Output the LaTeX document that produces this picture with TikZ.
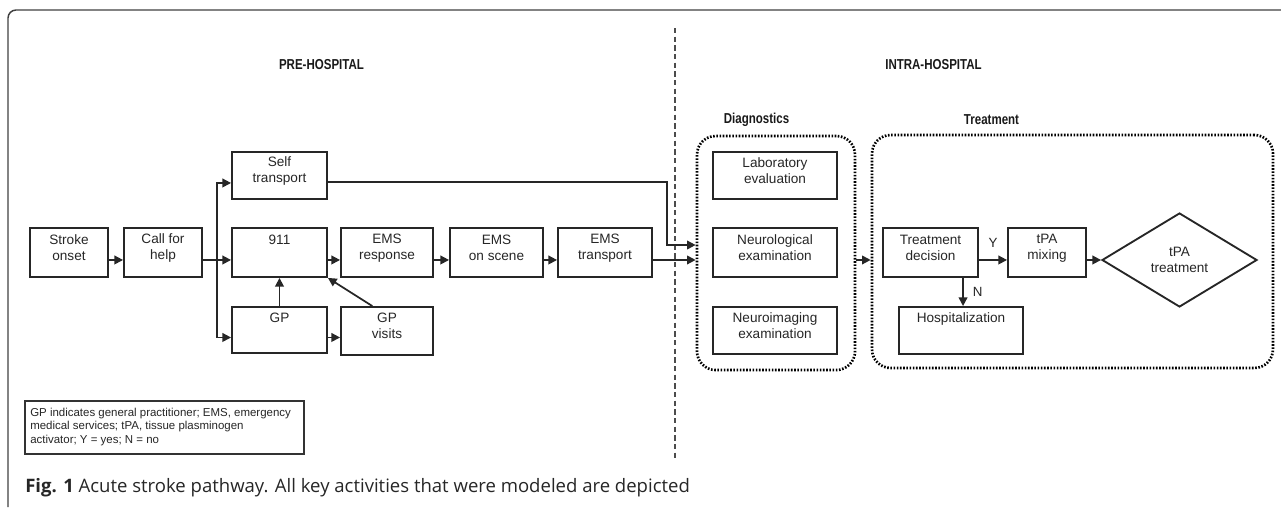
\documentclass[tikz,border=0pt]{standalone}
\usepackage{fontspec}
\usepackage{graphicx}
\setmainfont{Liberation Sans}
\newfontfamily\capfont{Open Sans}
\usetikzlibrary{arrows.meta,shapes.geometric,calc,fit}
\newcommand{\hdtxt}[1]{\scalebox{0.8}[1]{\bfseries #1}}
\begin{document}
\begin{tikzpicture}[x=0.75pt,y=-0.75pt,
  blk/.style={draw=black!85, line width=1.4pt, align=center, inner sep=0pt,
    text=black!85, font=\fontsize{10.2}{12}\selectfont},
  dotbox/.style={draw=black, line width=2pt, dash pattern=on 1.2pt off 1.2pt,
    rounded corners=14pt, inner sep=0pt},
  ln/.style={draw=black!85, line width=1.3pt},
  arr/.style={ln, -{Triangle[length=6.5pt,width=6.5pt]}},
  hd/.style={font=\fontsize{10.8}{12}\selectfont, text=black!90, inner sep=0pt},
  lab/.style={font=\fontsize{10}{12}\selectfont, text=black!85, inner sep=0pt},
  frame/.style={draw=black!75, line width=1.1pt, rounded corners=6pt},
  lo/.style={yshift=-5.6pt}
]
\useasboundingbox (0,0) rectangle (1281,507);
% outer frame
\draw[frame] (8,507) -- (8,10) -- (1282,10);
% divider
\draw[draw=black!70, line width=1.2pt, dash pattern=on 4pt off 2.5pt] (675,28) -- (675,458);
% headings
\node[hd] (pre) at (321.5,65) {\hdtxt{PRE-HOSPITAL}};
\node[hd] (intra) at (933.5,65) {\hdtxt{INTRA-HOSPITAL}};
\node[hd] (diaghd) at (756.5,120) {\hdtxt{Diagnostics}};
\node[hd] (treathd) at (991.5,120) {\hdtxt{Treatment}};
% dotted groups
\node[dotbox, fit={(697,136)(855,370)}] (diag) {};
\node[dotbox, fit={(872,135)(1273,368)}] (treat) {};
% pre-hospital boxes
\node[blk, fit={(30,228)(108,277)}] (onset) {Stroke\\onset};
\node[blk, fit={(124,228)(202,277)}] (help) {Call for\\help};
\node[blk, fit={(232,152)(327,199)}] (self) {Self\\transport};
\node[blk, fit={(232,228)(327,277)}] (n911) {911\\\mbox{}};
\node[blk, fit={(341,228)(433,277)}] (resp) {EMS\\response};
\node[blk, fit={(450,228)(543,277)}] (scene) {EMS\\on scene};
\node[blk, fit={(558,228)(652,277)}] (trans) {EMS\\transport};
\node[blk, fit={(232,307)(327,353)}] (gp) {GP\\\mbox{}};
\node[blk, fit={(341,307)(433,355)}] (gpv) {GP\\visits};
% diagnostics boxes
\node[blk, fit={(713,152)(837,199)}] (lab) {Laboratory\\evaluation};
\node[blk, fit={(713,228)(837,277)}] (neuro) {Neurological\\examination};
\node[blk, fit={(713,307)(837,354)}] (img) {Neuroimaging\\examination};
% treatment boxes
\node[blk, fit={(883,228)(978,277)}] (tdec) {Treatment\\decision};
\node[blk, fit={(1008,228)(1086,277)}] (mix) {tPA\\mixing};
\node[blk, fit={(899,307)(1023,354)}] (hosp) {Hospitalization\\\mbox{}};
\node[blk, shape=diamond, minimum width=116.25pt, minimum height=70.5pt] (tpa) at (1179.5,260) {tPA\\treatment};
% legend
\node[draw=black!80, line width=1pt, fit={(25,401)(304,454)}, inner sep=0pt] (legbox) {};
\node[anchor=west, align=left, inner sep=0pt, text=black!85, font=\fontsize{8.6}{10.1}\selectfont] (leg) at (30,427)
  {GP indicates general practitioner; EMS, emergency\\medical services; tPA, tissue plasminogen\\activator; Y = yes; N = no};
% caption
\node[anchor=west, inner sep=0pt, text=black!85, font=\capfont\fontsize{13.9}{15}\selectfont] (cap) at (25,488)
  {\textbf{Fig. 1} Acute stroke pathway. All key activities that were modeled are depicted};
% connectors
\coordinate (br) at (217,260);
\coordinate (sk) at (667,245);
\draw[arr] ([lo]onset.east) -- ([lo]help.west);
\draw[ln] ([lo]help.east) -- (br);
\draw[arr] (br) |- ([lo]self.west);
\draw[arr] (br) -- ([lo]n911.west);
\draw[arr] (br) |- ([lo]gp.west);
\draw[arr] ([lo]n911.east) -- ([lo]resp.west);
\draw[arr] ([lo]resp.east) -- ([lo]scene.west);
\draw[arr] ([lo]scene.east) -- ([lo]trans.east -| trans.west);
\draw[arr] (gp.north) -- (n911.south);
\draw[arr] ([lo]gp.east) -- ([lo]gpv.west |- gp.east);
\draw[arr] ([xshift=-11pt]gpv.north) -- (n911.south east);
\draw[arr] ([yshift=-5pt]self.east) -| (sk) -- (sk -| diag.west);
\draw[arr] ([lo]trans.east) -- ([lo]trans.east -| diag.west);
\draw[arr] ([lo]tdec.west -| diag.east) -- ([lo]tdec.west -| treat.west);
\draw[arr] ([lo]tdec.east) -- ([lo]mix.west) node[lab, pos=0.5, yshift=12.5pt] {Y};
\draw[arr] ([xshift=24.4pt]tdec.south) -- ([xshift=24.4pt]tdec.south |- hosp.north) node[lab, pos=0.5, xshift=11pt] {N};
\draw[arr] ([lo]mix.east) -- (tpa.west);
\end{tikzpicture}
\end{document}
